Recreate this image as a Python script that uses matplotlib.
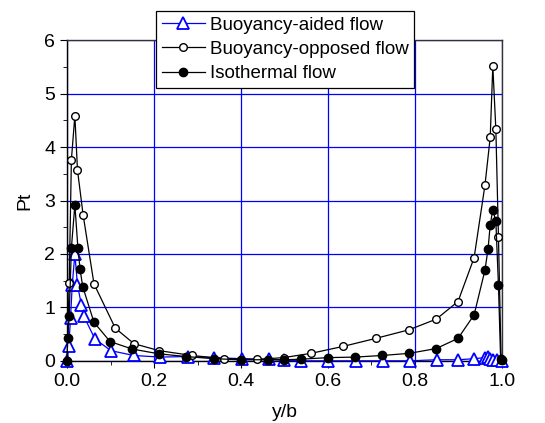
import numpy as np
import matplotlib
matplotlib.use("Agg")
import matplotlib.pyplot as plt
from matplotlib.ticker import MultipleLocator

plt.rcParams['font.family'] = ['Liberation Sans', 'DejaVu Sans']

# Buoyancy-aided flow (open blue triangles)
aided_x = [0.0, 0.004, 0.008, 0.012, 0.018, 0.024, 0.033, 0.039, 0.064, 0.101,
           0.153, 0.214, 0.277, 0.339, 0.402, 0.464, 0.499, 0.539, 0.601, 0.665,
           0.726, 0.788, 0.850, 0.900, 0.936, 0.961, 0.967, 0.973, 0.980, 0.988, 1.0]
aided_y = [0.0, 0.27, 0.80, 1.42, 2.0, 1.42, 1.05, 0.83, 0.41, 0.19,
           0.10, 0.07, 0.08, 0.06, 0.04, 0.03, 0.01, 0.0, 0.0, 0.0,
           0.0, 0.0, 0.02, 0.02, 0.04, 0.06, 0.08, 0.03, 0.02, 0.01, 0.0]

# Buoyancy-opposed flow (open black circles)
opposed_x = [0.0, 0.005, 0.010, 0.018, 0.024, 0.037, 0.062, 0.111, 0.154, 0.212,
             0.287, 0.361, 0.436, 0.498, 0.561, 0.635, 0.710, 0.786, 0.849, 0.899,
             0.936, 0.961, 0.973, 0.979, 0.986, 0.992, 0.998]
opposed_y = [0.0, 1.46, 3.76, 4.59, 3.57, 2.73, 1.44, 0.61, 0.32, 0.19,
             0.10, 0.04, 0.025, 0.06, 0.14, 0.27, 0.42, 0.58, 0.78, 1.11,
             1.93, 3.29, 4.18, 5.52, 4.33, 2.31, 0.02]

# Isothermal flow (filled black circles)
iso_x = [0.0, 0.0015, 0.005, 0.010, 0.018, 0.025, 0.030, 0.036, 0.062, 0.099,
         0.150, 0.212, 0.274, 0.337, 0.400, 0.462, 0.498, 0.538, 0.600, 0.663,
         0.725, 0.787, 0.849, 0.899, 0.936, 0.961, 0.968, 0.973, 0.979, 0.986,
         0.992, 0.997, 1.0]
iso_y = [0.0, 0.42, 0.84, 2.11, 2.92, 2.11, 1.71, 1.39, 0.72, 0.36,
         0.22, 0.13, 0.08, 0.04, 0.02, 0.02, 0.02, 0.03, 0.06, 0.07,
         0.10, 0.14, 0.23, 0.42, 0.86, 1.70, 2.09, 2.54, 2.83, 2.61,
         1.41, 0.03, 0.02]

fig = plt.figure(figsize=(5.45, 4.23), dpi=100)
ax = fig.add_axes([0.123, 0.147, 0.798, 0.758])

ax.plot(aided_x, aided_y, color="blue", lw=0.9, marker="^", markersize=8,
        markerfacecolor="white", markeredgecolor="blue", markeredgewidth=1.3,
        label="Buoyancy-aided flow", clip_on=False, zorder=3)
ax.plot(opposed_x, opposed_y, color="black", lw=0.9, marker="o", markersize=5.5,
        markerfacecolor="white", markeredgecolor="black", markeredgewidth=1.0,
        label="Buoyancy-opposed flow", clip_on=False, zorder=4)
ax.plot(iso_x, iso_y, color="black", lw=0.9, marker="o", markersize=6,
        markerfacecolor="black", markeredgecolor="black",
        label="Isothermal flow", clip_on=False, zorder=5)

ax.set_xlim(0, 1.0)
ax.set_ylim(0, 6)
ax.xaxis.set_major_locator(MultipleLocator(0.2))
ax.xaxis.set_minor_locator(MultipleLocator(0.1))
ax.yaxis.set_major_locator(MultipleLocator(1))
ax.yaxis.set_minor_locator(MultipleLocator(0.5))
ax.set_xticklabels([f"{v:.1f}" for v in ax.get_xticks()])

ax.grid(True, which="major", color="blue", lw=0.9)
ax.set_axisbelow(True)
ax.tick_params(which="both", direction="out", top=False, right=False,
               labelsize=14)
ax.tick_params(which="major", length=5)
ax.tick_params(which="minor", length=3)
for s in ax.spines.values():
    s.set_color("#333333")
    s.set_linewidth(1.0)
ax.spines["left"].set_color("black")
ax.spines["bottom"].set_color("black")

ax.set_xlabel("y/b", fontsize=14, labelpad=10)
ax.set_ylabel("Pt", fontsize=14, labelpad=8)

leg = fig.legend(loc="upper left", bbox_to_anchor=(156 / 545, 1 - 11 / 423),
                 fontsize=13.5, frameon=True, fancybox=False, framealpha=1,
                 edgecolor="black", borderpad=0.3, labelspacing=0.38,
                 handlelength=2.3, handletextpad=0.28, borderaxespad=0)
leg.get_frame().set_linewidth(0.9)

fig.savefig("out.png", dpi=100)
